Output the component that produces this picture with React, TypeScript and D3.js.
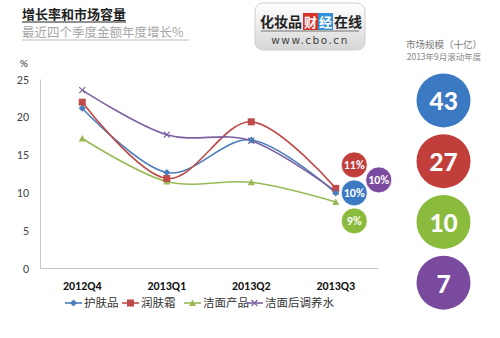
import React from "react";
import * as d3 from "d3";

const categories = ["2012Q4", "2013Q1", "2013Q2", "2013Q3"];
const seriesNames = ["护肤品", "润肤霜", "洁面产品", "洁面后调养水"];
const skinCare = [21.2, 12.7, 17.0, 10.0];
const moisturizer = [22.0, 11.9, 19.4, 10.6];
const cleanser = [17.2, 11.5, 11.4, 8.8];
const toner = [23.6, 17.7, 16.9, 10.2];
const yTicks = [0, 5, 10, 15, 20, 25];
const growthLabels = ["10%", "11%", "9%", "10%"];
const marketSizes = ["43", "27", "10", "7"];

const lineColors = ["#4A7EBB", "#BE4B48", "#98B954", "#7D60A0"];
const bubbleColors = ["#3B79C2", "#C13E3B", "#8BBB3C", "#7A4A9E"];
const cjk = "'Noto Sans CJK SC', 'Noto Sans', sans-serif";
const latin = "Calibri, Carlito, 'Liberation Sans', 'Noto Sans', sans-serif";

export default function App() {
  const W = 500, H = 338;
  const x = d3.scaleBand<string>().domain(categories).range([40, 378]);
  const y = d3.scaleLinear().domain([0, 25]).range([268.5, 79.5]);
  const cx = (c: string) => (x(c) as number) + x.bandwidth() / 2;
  const all = [skinCare, moisturizer, cleanser, toner];
  const line = d3
    .line<number>()
    .x((_, i) => cx(categories[i]))
    .y((v) => y(v))
    .curve(d3.curveCatmullRom.alpha(0));

  const marker = (k: number, px: number, py: number, key: string) => {
    const c = lineColors[k];
    if (k === 0)
      return <path key={key} d={`M${px},${py - 3.5}L${px + 3.5},${py}L${px},${py + 3.5}L${px - 3.5},${py}Z`} fill={c} />;
    if (k === 1) return <rect key={key} x={px - 3.5} y={py - 3.5} width={7} height={7} fill={c} />;
    if (k === 2)
      return <path key={key} d={`M${px},${py - 3.5}L${px + 3.5},${py + 3}L${px - 3.5},${py + 3}Z`} fill={c} />;
    return (
      <path key={key} d={`M${px - 3},${py - 3}L${px + 3},${py + 3}M${px - 3},${py + 3}L${px + 3},${py - 3}`} stroke={c} strokeWidth={1.2} />
    );
  };

  const lastX = cx(categories[3]);
  // growth bubble offsets around last data point (annotation layout)
  const gOff = [
    { dx: 18.5, dy: 0 },
    { dx: 18.5, dy: -28 },
    { dx: 18.5, dy: 28 },
    { dx: 43, dy: -13 },
  ];
  const baseY = y(skinCare[3]);

  const sizeY = d3.scaleBand<string>().domain(marketSizes).range([70, 313]);

  const legendX = [65, 122, 184, 246];

  return (
    <svg width={W} height={H} style={{ position: "absolute", left: 0, top: 0, background: "#fff" }}>
      {/* title */}
      <text x={22} y={19} fontFamily={cjk} fontWeight={700} fontSize={13} fill="#222">
        增长率和市场容量
      </text>
      <line x1={22} y1={22} x2={126} y2={22} stroke="#222" strokeWidth={1} />
      <text x={22} y={37} fontFamily={cjk} fontSize={12.5} fill="#A6A6A6">
        最近四个季度金额年度增长%
      </text>
      <line x1={22} y1={40} x2={189} y2={40} stroke="#BDBDBD" strokeWidth={1} />

      {/* logo */}
      <defs>
        <linearGradient id="lg" x1="0" y1="0" x2="0" y2="1">
          <stop offset="0" stopColor="#ffffff" />
          <stop offset="1" stopColor="#d6d6d6" />
        </linearGradient>
      </defs>
      <rect x={255} y={3} width={110} height={47} rx={8} fill="url(#lg)" stroke="#cfcfcf" />
      <text x={260} y={27} fontFamily={cjk} fontWeight={700} fontSize={14} fill="#222">化妆品</text>
      <rect x={303} y={13} width={15} height={17} fill="#D9342B" />
      <rect x={318} y={13} width={15} height={17} fill="#2F8FD8" />
      <text x={304} y={27} fontFamily={cjk} fontWeight={700} fontSize={13} fill="#fff">财</text>
      <text x={319} y={27} fontFamily={cjk} fontWeight={700} fontSize={13} fill="#fff">经</text>
      <text x={334} y={27} fontFamily={cjk} fontWeight={700} fontSize={14} fill="#222">在线</text>
      <line x1={261} y1={31} x2={359} y2={31} stroke="#555" strokeWidth={0.8} />
      <text x={310} y={44} textAnchor="middle" fontFamily="'DejaVu Sans', sans-serif" fontSize={10.5} letterSpacing={1.5} fill="#444">
        www.cbo.cn
      </text>

      {/* axes */}
      <text x={20} y={67} fontFamily={latin} fontSize={11} fill="#444">%</text>
      {yTicks.map((t) => (
        <text key={t} x={29} y={y(t) + 4} textAnchor="end" fontFamily={latin} fontSize={12} fill="#444">
          {t}
        </text>
      ))}
      <line x1={40.5} y1={y(25)} x2={40.5} y2={y(0)} stroke="#C8C8C8" />
      <line x1={40} y1={y(0)} x2={378} y2={y(0)} stroke="#C8C8C8" />
      {categories.map((c) => (
        <text key={c} x={cx(c)} y={290} textAnchor="middle" fontFamily={latin} fontWeight={700} fontSize={12} fill="#111">
          {c}
        </text>
      ))}

      {/* lines */}
      {all.map((s, k) => (
        <path key={k} d={line(s) || ""} fill="none" stroke={lineColors[k]} strokeWidth={1.6} />
      ))}
      {[3, 2, 1, 0].map((k) => all[k].map((v, i) => marker(k, cx(categories[i]), y(v), `m${k}-${i}`)))}

      {/* growth bubbles */}
      {growthLabels.map((g, k) => {
        const bx = lastX + gOff[k].dx;
        const by = baseY + gOff[k].dy;
        return (
          <g key={k}>
            <circle cx={bx} cy={by} r={13} fill={bubbleColors[k]} stroke="#fff" strokeWidth={0.8} />
            <text x={bx} y={by + 4.5} textAnchor="middle" fontFamily={latin} fontWeight={700} fontSize={12} fill="#fff">
              {g}
            </text>
          </g>
        );
      })}

      {/* market size */}
      <text x={444} y={48} textAnchor="middle" fontFamily={cjk} fontSize={9.5} fill="#777">
        市场规模（十亿）
      </text>
      <text x={444} y={60} textAnchor="middle" fontFamily={cjk} fontSize={8.5} fill="#888">
        2013年9月滚动年度
      </text>
      {marketSizes.map((m, k) => {
        const by = (sizeY(m) as number) + sizeY.bandwidth() / 2;
        return (
          <g key={m}>
            <circle cx={443.5} cy={by} r={27} fill={bubbleColors[k]} />
            <text x={443.5} y={by + 10} textAnchor="middle" fontFamily={latin} fontWeight={700} fontSize={28} fill="#fff">
              {m}
            </text>
          </g>
        );
      })}

      {/* legend */}
      {seriesNames.map((n, k) => {
        const lx = legendX[k];
        const ly = 303;
        return (
          <g key={n}>
            <line x1={lx} y1={ly} x2={lx + 17} y2={ly} stroke={lineColors[k]} strokeWidth={1.6} />
            {marker(k, lx + 8.5, ly, `lg${k}`)}
            <text x={lx + 19} y={ly + 4} fontFamily={cjk} fontSize={11.5} fill="#333">
              {n}
            </text>
          </g>
        );
      })}
    </svg>
  );
}
